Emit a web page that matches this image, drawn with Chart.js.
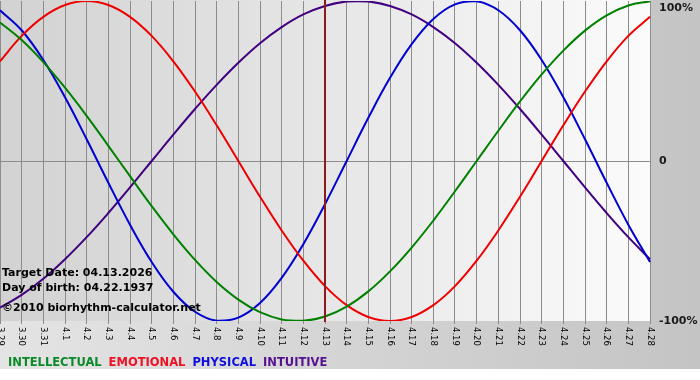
<!DOCTYPE html>
<html>
<head>
<meta charset="utf-8">
<script src="https://cdn.jsdelivr.net/npm/chart.js@4/dist/chart.umd.min.js"></script>
<style>
  html, body { margin: 0; padding: 0; background: #fff; }
  #wrap { width: 700px; height: 380px; }
</style>
</head>
<body>
<div id="wrap"><canvas id="bio" width="700" height="380"></canvas></div>
<script>
// -- data --------------------------------------------------------------

const days = ['3.29', '3.30', '3.31', '4.1', '4.2', '4.3', '4.4', '4.5', '4.6', '4.7',
  '4.8', '4.9', '4.10', '4.11', '4.12', '4.13', '4.14', '4.15', '4.16', '4.17',
  '4.18', '4.19', '4.20', '4.21', '4.22', '4.23', '4.24', '4.25', '4.26', '4.27', '4.28'];

const intellectual = [86.6, 75.6, 61.8, 45.8, 28.2, 9.5, -9.5, -28.2, -45.8, -61.8,
  -75.6, -86.6, -94.5, -99.0, -99.9, -97.2, -91.0, -81.5, -69.0, -54.1,
  -37.2, -18.9, 0, 18.9, 37.2, 54.1, 69.0, 81.5, 91.0, 97.2, 99.9];

const emotional = [62.3, 78.2, 90.1, 97.5, 100, 97.5, 90.1, 78.2, 62.3, 43.4,
  22.3, 0, -22.3, -43.4, -62.3, -78.2, -90.1, -97.5, -100, -97.5,
  -90.1, -78.2, -62.3, -43.4, -22.3, 0, 22.3, 43.4, 62.3, 78.2, 90.1];

const physical = [94.2, 81.7, 63.1, 39.8, 13.6, -13.6, -39.8, -63.1, -81.7, -94.2,
  -99.8, -97.9, -88.8, -73.1, -52.0, -27.0, 0, 27.0, 52.0, 73.1,
  88.8, 97.9, 99.8, 94.2, 81.7, 63.1, 39.8, 13.6, -13.6, -39.8, -63.1];

const intuitive = [-91.6, -83.7, -73.6, -61.4, -47.6, -32.5, -16.5, 0, 16.5, 32.5,
  47.6, 61.4, 73.6, 83.7, 91.6, 96.9, 99.7, 99.7, 96.9, 91.6,
  83.7, 73.6, 61.4, 47.6, 32.5, 16.5, 0, -16.5, -32.5, -47.6, -61.4];

const yTickValues = [100, 0, -100];
const yTickLabels = ['100%', '0', '-100%'];

const targetDay = '4.13';
const infoLines = ['Target Date: 04.13.2026', 'Day of birth: 04.22.1937', '\u00a92010 biorhythm-calculator.net'];

const seriesNames = ['INTELLECTUAL', 'EMOTIONAL', 'PHYSICAL', 'INTUITIVE'];

// -- look ----------------------------------------------------------------

const C = {
  intellectual: '#008000',
  emotional:    '#ee0000',
  physical:     '#0000d0',
  intuitive:    '#40007f',
  target:       '#8e1b1b',
  grid:         '#8c8c8c',
  text:         '#000000',
};
const LEGEND_COLORS = ['#0b8a2a', '#ee1122', '#1010dd', '#55118f'];
const BOLD = "bold 11px 'DejaVu Sans', Verdana, sans-serif";

function line(label, data, color) {
  return {
    label, data,
    borderColor: color,
    borderWidth: 2,
    pointRadius: 0,
    fill: false,
    tension: 0.4,
  };
}

// backgrounds, target line, tick labels and notes
const decor = {
  id: 'decor',
  beforeDraw(chart) {
    const { ctx, chartArea: a } = chart;
    ctx.save();
    let g = ctx.createLinearGradient(0, 0, 700, 0);
    g.addColorStop(0, '#e4e4e4');
    g.addColorStop(1, '#c4c4c4');
    ctx.fillStyle = g;
    ctx.fillRect(0, 0, 700, 369);

    g = ctx.createLinearGradient(a.left, 0, a.right, 0);
    g.addColorStop(0, '#d2d2d2');
    g.addColorStop(1, '#fbfbfb');
    ctx.fillStyle = g;
    ctx.fillRect(a.left, a.top - 1, a.right - a.left, a.bottom - a.top + 1);
    ctx.restore();
  },
  afterDatasetsDraw(chart) {
    const { ctx, chartArea: a } = chart;
    const x = Math.round(chart.scales.x.getPixelForValue(days.indexOf(targetDay)));
    ctx.save();
    ctx.strokeStyle = C.target;
    ctx.lineWidth = 2;
    ctx.beginPath();
    ctx.moveTo(x, 0);
    ctx.lineTo(x, a.bottom + 1);
    ctx.stroke();
    ctx.restore();
  },
  afterDraw(chart) {
    const { ctx, chartArea: a, scales } = chart;
    ctx.save();

    // x labels, turned to read top-down
    ctx.fillStyle = C.text;
    ctx.font = "8.5px 'DejaVu Sans', Verdana, sans-serif";
    ctx.textAlign = 'left';
    ctx.textBaseline = 'middle';
    days.forEach((d, i) => {
      const x = scales.x.getPixelForTick(i);
      ctx.save();
      ctx.translate(x, a.bottom + 6);
      ctx.rotate(Math.PI / 2);
      ctx.fillText(d, 0, 0);
      ctx.restore();
    });

    // right-hand percent labels
    ctx.font = BOLD;
    ctx.fillStyle = '#1a1a1a';
    yTickValues.forEach((v, i) => {
      const y = Math.max(scales.y.getPixelForValue(v), 8);
      ctx.fillText(yTickLabels[i], a.right + 9, y);
    });

    // notes bottom-left
    ctx.textBaseline = 'alphabetic';
    ctx.fillStyle = '#000';
    ctx.fillText(infoLines[0], 2, 276);
    ctx.fillText(infoLines[1], 2, 291);
    ctx.fillText(infoLines[2], 2, 311);

    // legend
    ctx.font = "bold 11.5px 'DejaVu Sans', Verdana, sans-serif";
    let lx = 8;
    seriesNames.forEach((n, i) => {
      ctx.fillStyle = LEGEND_COLORS[i];
      ctx.fillText(n, lx, 366);
      lx += ctx.measureText(n).width + 7;
    });
    ctx.restore();
  },
};

new Chart(document.getElementById('bio'), {
  type: 'line',
  data: {
    labels: days,
    datasets: [
      line('Intellectual', intellectual, C.intellectual),
      line('Emotional', emotional, C.emotional),
      line('Physical', physical, C.physical),
      line('Intuitive', intuitive, C.intuitive),
    ],
  },
  options: {
    responsive: false,
    animation: false,
    devicePixelRatio: 1,
    layout: { autoPadding: false, padding: { left: 0, right: 50, top: 1, bottom: 56 } },
    plugins: { legend: { display: false }, tooltip: { enabled: false } },
    scales: {
      x: {
        offset: false,
        border: { display: false },
        grid: { color: C.grid, lineWidth: 1, drawTicks: true, tickLength: 3 },
        ticks: { display: false },
      },
      y: {
        min: -100,
        max: 100,
        border: { display: false },
        grid: {
          drawTicks: false,
          color: ctx => (ctx.tick && ctx.tick.value === 0 ? C.grid : 'rgba(0,0,0,0)'),
        },
        ticks: { display: false, stepSize: 100 },
      },
    },
  },
  plugins: [decor],
});
</script>
</body>
</html>
